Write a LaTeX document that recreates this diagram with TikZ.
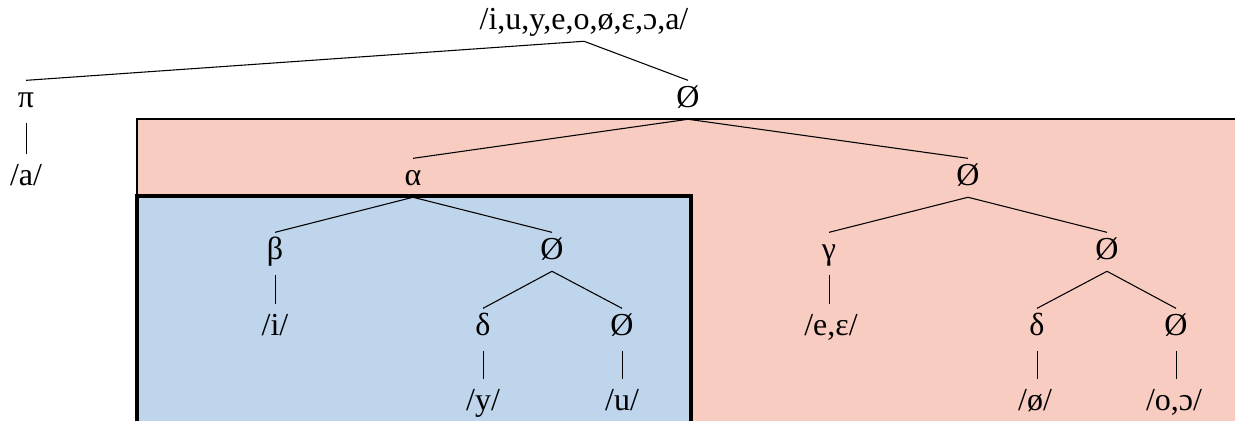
\documentclass[tikz,border=0pt]{standalone}
\usepackage{fontspec}
\setmainfont{Liberation Serif}
\usepackage{tikz}
\usetikzlibrary{positioning}

\definecolor{redbox}{RGB}{249,204,194}
\definecolor{bluebox}{RGB}{190,213,236}

\begin{document}
\begin{tikzpicture}[%
    x=0.75pt, y=-0.75pt,
    every node/.style={font=\fontsize{24}{28}\selectfont,text height=16.8pt,text depth=6pt,inner sep=3pt,anchor=base},
    branch/.style={line width=0.8pt},
    bar/.style={line width=0.7pt,shorten <=3pt,shorten >=3pt}
]
\useasboundingbox (0,0) rectangle (1235,421);

% ---------------- Boxes ----------------
\fill[redbox] (137,119) rectangle (1240,430);
\draw[line width=1.5pt] (137,430) -- (137,119) -- (1240,119);
\filldraw[fill=bluebox,line width=3pt] (137,430) -- (137,196) -- (690.5,196) -- (690.5,430);

% ---------------- Tree nodes ----------------
\node (root) at (584,29) {/i,u,y,e,o,ø,ε,ɔ,a/};
\node (pi) at (26,107) {π};
\node (n0) at (688,107) {Ø};
\node (a) at (26,185) {/a/};
\node (alpha) at (413,185) {α};
\node (n1) at (968,185) {Ø};
\node (beta) at (275,259) {β};
\node (n2) at (552,259) {Ø};
\node (gamma) at (829,259) {γ};
\node (n3) at (1107,259) {Ø};
\node (i) at (275,335) {/i/};
\node (delta1) at (483,335) {δ};
\node (n4) at (622,335) {Ø};
\node (ee) at (831,335) {/e,ε/};
\node (delta2) at (1037,335) {δ};
\node (n5) at (1176,335) {Ø};
\node (y) at (483,410) {/y/};
\node (u) at (622,410) {/u/};
\node (oe) at (1035,410) {/ø/};
\node (oo) at (1174,410) {/o,ɔ/};

% ---------------- Branches ----------------
\foreach \p/\c in {root/pi,root/n0,n0/alpha,n0/n1,alpha/beta,alpha/n2,n2/delta1,n2/n4,n1/gamma,n1/n3,n3/delta2,n3/n5} {
    \draw[branch] (\p.south) -- (\c.north);
}

% ---------------- Vertical bars ----------------
\foreach \p/\c in {pi/a,beta/i,delta1/y,n4/u,gamma/ee,delta2/oe,n5/oo} {
    \draw[bar] (\p.south) -- (\p.south |- \c.north);
}

\end{tikzpicture}
\end{document}
